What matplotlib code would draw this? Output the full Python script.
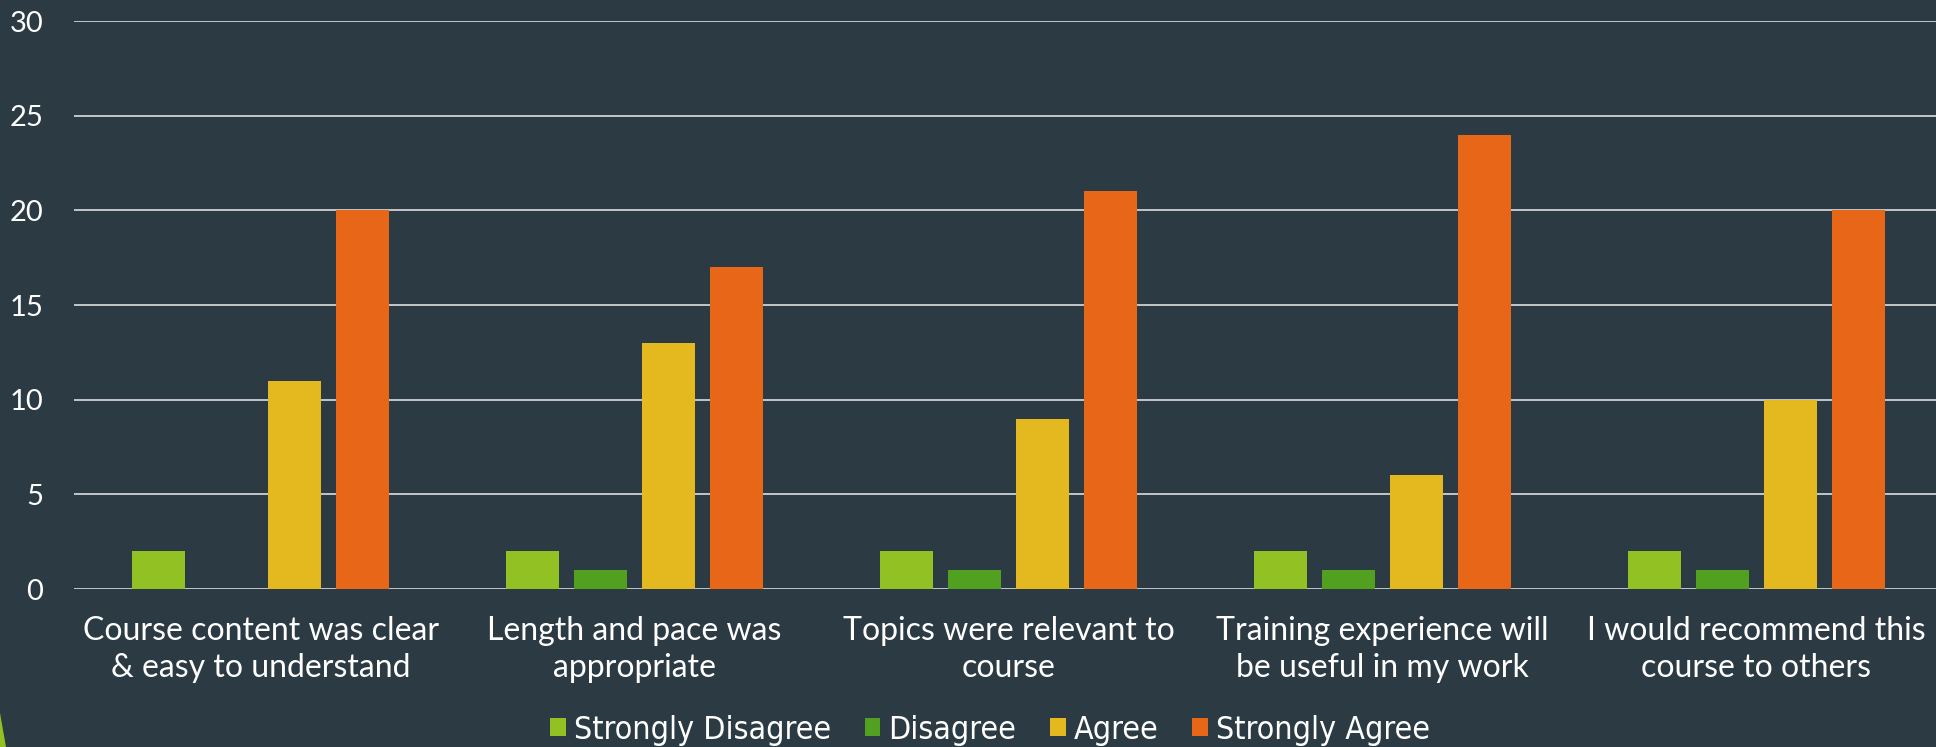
import matplotlib.pyplot as plt
import matplotlib.patches as mpatches
import numpy as np

# survey results per question
categories = [
    "Course content was clear\n& easy to understand",
    "Length and pace was\nappropriate",
    "Topics were relevant to\ncourse",
    "Training experience will\nbe useful in my work",
    "I would recommend this\ncourse to others",
]
series_names = ["Strongly Disagree", "Disagree", "Agree", "Strongly Agree"]
strongly_disagree = [2, 2, 2, 2, 2]
disagree = [0, 1, 1, 1, 1]
agree = [11, 13, 9, 6, 10]
strongly_agree = [20, 17, 21, 24, 20]
yticks = [0, 5, 10, 15, 20, 25, 30]

bg = "#2c3b43"
colors = ["#92c123", "#52a020", "#e4b91f", "#e76618"]
font = ["Lato", "DejaVu Sans"]

fig = plt.figure(figsize=(19.36, 7.47), dpi=100, facecolor=bg)
ax = fig.add_axes([73.7 / 1936, 1 - 589 / 747, 1869.6 / 1936, (589 - 21) / 747])
ax.set_facecolor(bg)

x = np.arange(len(categories))
step = 0.182
width = 0.142
values = [strongly_disagree, disagree, agree, strongly_agree]
for k, (name, vals) in enumerate(zip(series_names, values)):
    ax.bar(x + (k - 1.5) * step, vals, width, color=colors[k], label=name,
           zorder=3)

ax.set_ylim(0, 30)
ax.set_xlim(-0.5, 4.5)
ax.set_yticks(yticks)
ax.yaxis.grid(True, color="#ececec", linewidth=1.1, zorder=1)
ax.set_axisbelow(True)
for s in ax.spines.values():
    s.set_visible(False)

ax.set_xticks(x)
ax.set_xticklabels(categories, fontsize=23, color="white", family=font,
                   linespacing=1.3)
for lab in ax.get_yticklabels():
    lab.set_fontsize(21)
    lab.set_color("white")
    lab.set_family(font)
ax.tick_params(axis="both", length=0)
ax.tick_params(axis="y", pad=22)
ax.tick_params(axis="x", pad=19.5)

leg = fig.legend(loc="center", bbox_to_anchor=(990 / 1936, 1 - 730 / 747),
                 ncol=4, frameon=False, handlelength=0.5, handleheight=0.5,
                 handletextpad=0.25, columnspacing=1.05,
                 prop={"family": "DejaVu Sans", "stretch": "condensed",
                       "size": 23})
for t in leg.get_texts():
    t.set_color("white")

# small green accent in the lower-left corner
fig.patches.append(mpatches.Polygon([[0, 0], [6 / 1936, 0], [0, 34 / 747]],
                                    closed=True, transform=fig.transFigure,
                                    facecolor="#92c123", edgecolor="none"))

fig.savefig("out.png", dpi=100, facecolor=bg)
